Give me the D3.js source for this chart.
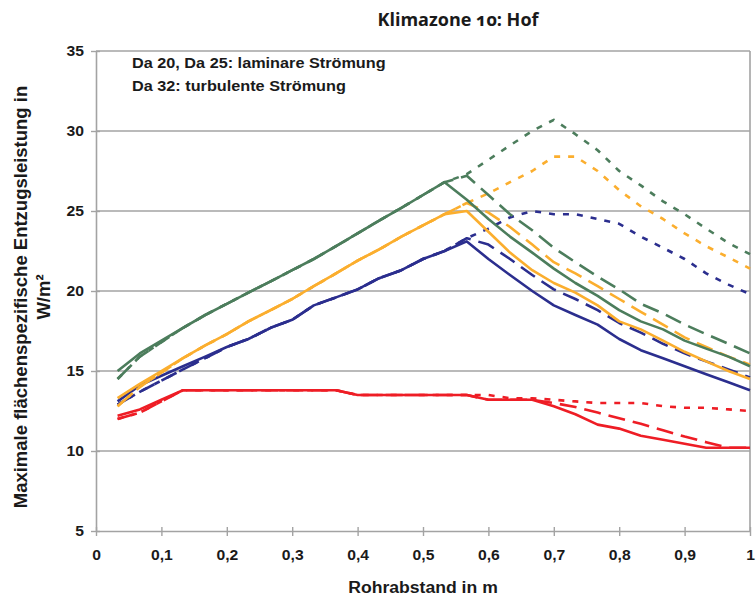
<!DOCTYPE html>
<html><head><meta charset="utf-8">
<script src="https://cdn.jsdelivr.net/npm/d3@7/dist/d3.min.js"></script>
<style>
body{margin:0;background:#fff;}
svg{display:block;font-family:"Liberation Sans",Arial,sans-serif;}
</style></head><body>
<svg id="chart" width="756" height="602"></svg>
<script>
// ---------- DATA ----------
const rohrabstand = [0.033,0.067,0.1,0.133,0.167,0.2,0.233,0.267,0.3,0.333,0.367,0.4,0.433,0.467,0.5,0.533,0.567,0.6,0.633,0.667,0.7,0.733,0.767,0.8,0.833,0.867,0.9,0.933,0.967,1.0];

const gruenDa20  = [15.0,16.1,16.9,17.7,18.5,19.2,19.9,20.6,21.3,22.0,22.8,23.6,24.4,25.2,26.0,26.8,25.7,24.5,23.4,22.4,21.4,20.5,19.7,18.8,18.1,17.6,16.9,16.4,15.9,15.3];
const gruenDa25  = [14.5,15.9,16.8,17.7,18.5,19.2,19.9,20.6,21.3,22.0,22.8,23.6,24.4,25.2,26.0,26.8,27.2,26.0,24.8,23.8,22.7,21.8,20.9,20.1,19.2,18.6,17.9,17.3,16.7,16.1];
const gruenDa32  = [14.5,15.9,16.8,17.7,18.5,19.2,19.9,20.6,21.3,22.0,22.8,23.6,24.4,25.2,26.0,26.8,27.3,28.2,29.1,30.0,30.7,29.8,28.8,27.5,26.6,25.6,24.8,23.9,23.0,22.3];

const orangeDa20 = [13.3,14.2,15.0,15.8,16.6,17.3,18.1,18.8,19.5,20.3,21.1,21.9,22.6,23.4,24.1,24.8,25.0,23.7,22.4,21.3,20.5,19.9,19.1,18.1,17.6,16.9,16.2,15.6,15.0,14.5];
const orangeDa25 = [12.8,14.0,14.9,15.8,16.6,17.3,18.1,18.8,19.5,20.3,21.1,21.9,22.6,23.4,24.1,24.8,25.5,24.9,24.0,22.9,21.8,21.1,20.3,19.5,18.7,17.9,17.1,16.5,15.9,15.4];
const orangeDa32 = [12.8,14.0,14.9,15.8,16.6,17.3,18.1,18.8,19.5,20.3,21.1,21.9,22.6,23.4,24.1,24.8,25.5,26.1,26.8,27.5,28.4,28.4,27.5,26.3,25.3,24.5,23.6,22.8,22.1,21.4];

const blauDa20   = [13.1,14.1,14.7,15.3,15.9,16.5,17.0,17.7,18.2,19.1,19.6,20.1,20.8,21.3,22.0,22.5,23.1,22.0,21.0,20.0,19.1,18.5,17.9,17.0,16.3,15.8,15.3,14.8,14.3,13.8];
const blauDa25   = [12.9,13.7,14.4,15.1,15.8,16.5,17.0,17.7,18.2,19.1,19.6,20.1,20.8,21.3,22.0,22.5,23.3,22.9,22.0,21.0,20.1,19.5,18.8,18.0,17.4,16.7,16.1,15.6,15.1,14.6];
const blauDa32   = [12.9,13.7,14.4,15.1,15.8,16.5,17.0,17.7,18.2,19.1,19.6,20.1,20.8,21.3,22.0,22.5,23.3,23.9,24.6,25.0,24.8,24.8,24.5,24.2,23.4,22.7,22.0,21.1,20.4,19.8];

const rotDa20    = [12.2,12.6,13.2,13.8,13.8,13.8,13.8,13.8,13.8,13.8,13.8,13.5,13.5,13.5,13.5,13.5,13.5,13.2,13.2,13.2,12.8,12.3,11.65,11.4,10.95,10.7,10.45,10.2,10.2,10.2];
const rotDa25    = [12.0,12.4,13.1,13.8,13.8,13.8,13.8,13.8,13.8,13.8,13.8,13.5,13.5,13.5,13.5,13.5,13.5,13.2,13.2,13.2,13.0,12.75,12.4,12.05,11.7,11.3,10.9,10.55,10.2,10.2];
const rotDa32    = [12.0,12.4,13.1,13.8,13.8,13.8,13.8,13.8,13.8,13.8,13.8,13.5,13.5,13.5,13.5,13.5,13.5,13.5,13.3,13.3,13.2,13.1,13.0,13.0,13.0,12.8,12.7,12.7,12.6,12.5];

const yTickValues = [5,10,15,20,25,30,35];
const xTickValues = [0,0.1,0.2,0.3,0.4,0.5,0.6,0.7,0.8,0.9,1];
const xTickLabels = ["0","0,1","0,2","0,3","0,4","0,5","0,6","0,7","0,8","0,9","1"];

const titleText = "Klimazone 10: Hof";
const noteLines = ["Da 20, Da 25: laminare Strömung","Da 32: turbulente Strömung"];
const yTitleLines = ["Maximale flächenspezifische Entzugsleistung in","W/m²"];
const xTitleText = "Rohrabstand in m";

// ---------- STYLE ----------
const C = {green:"#4C7D5C", orange:"#FBAE2E", blue:"#2B2E8E", red:"#EE1D25", grid:"#A3A3A3", text:"#1a1a1a"};
const DASH = {solid:null, lang:"17,8", kurz:"6,8"};

const series = [
  {v:rotDa32, c:C.red, d:DASH.kurz}, {v:rotDa25, c:C.red, d:DASH.lang}, {v:rotDa20, c:C.red, d:DASH.solid},
  {v:blauDa32, c:C.blue, d:DASH.kurz}, {v:blauDa25, c:C.blue, d:DASH.lang}, {v:blauDa20, c:C.blue, d:DASH.solid},
  {v:orangeDa32, c:C.orange, d:DASH.kurz}, {v:orangeDa25, c:C.orange, d:DASH.lang}, {v:orangeDa20, c:C.orange, d:DASH.solid},
  {v:gruenDa32, c:C.green, d:DASH.kurz}, {v:gruenDa25, c:C.green, d:DASH.lang}, {v:gruenDa20, c:C.green, d:DASH.solid}
];

const W = 756, H = 602;
const m = {left:96, right:6, top:51, bottom:71};
const svg = d3.select("#chart");
const x = d3.scaleLinear().domain([0,1]).range([m.left, W-m.right]);
const y = d3.scaleLinear().domain([5,35]).range([H-m.bottom, m.top]);

function hstretch(sel, k){
  sel.each(function(){
    const L = this.getComputedTextLength();
    this.setAttribute("textLength", L*k);
    this.setAttribute("lengthAdjust","spacingAndGlyphs");
  });
}

// gridlines
svg.append("g").selectAll("line").data(yTickValues.filter(v=>v>5)).join("line")
  .attr("x1", x(0)).attr("x2", x(1)).attr("y1", d=>y(d)).attr("y2", d=>y(d))
  .attr("stroke", C.grid).attr("stroke-width", 1.6);
// right border
svg.append("line").attr("x1", x(1)).attr("x2", x(1)).attr("y1", y(35)).attr("y2", y(5))
  .attr("stroke", C.grid).attr("stroke-width", 1.6);

// axes
const yAxis = d3.axisLeft(y).tickValues(yTickValues).tickSize(5).tickSizeOuter(0).tickFormat(d3.format("d"));
const gy = svg.append("g").attr("transform", `translate(${x(0)},0)`).call(yAxis);
const xAxis = d3.axisBottom(x).tickValues(xTickValues).tickSize(5).tickSizeOuter(0).tickFormat((d,i)=>xTickLabels[i]);
const gx = svg.append("g").attr("transform", `translate(0,${y(5)})`).call(xAxis);
[gx, gy].forEach(g=>{
  g.select(".domain").attr("stroke", C.grid).attr("stroke-width", 1.6);
  g.selectAll(".tick line").attr("stroke", C.grid).attr("stroke-width", 1.4);
  g.selectAll(".tick text").attr("fill", C.text).attr("font-size", 14).attr("font-weight", "bold")
    .attr("font-family", '"Liberation Sans",Arial,sans-serif');
});
gy.selectAll(".tick line").attr("x1", 4);
gy.selectAll(".tick text").attr("x", -12).attr("dy", "0.35em");
gx.selectAll(".tick line").attr("y1", -4);
gx.selectAll(".tick text").attr("y", 19).attr("dy", "0.71em");
hstretch(gx.selectAll(".tick text"), 1.12);
hstretch(gy.selectAll(".tick text"), 1.12);

// lines
const line = d3.line().x((d,i)=>x(rohrabstand[i])).y(d=>y(d));
svg.append("g").selectAll("path").data(series).join("path")
  .attr("d", d=>line(d.v)).attr("fill","none").attr("stroke", d=>d.c)
  .attr("stroke-width", 2.6).attr("stroke-dasharray", d=>d.d).attr("stroke-linejoin","round");

// title
svg.append("text").attr("x", 458).attr("y", 26).attr("text-anchor","middle")
  .attr("font-family",'"Open Sans","Noto Sans",sans-serif').attr("font-weight","bold").attr("font-size",18)
  .style("font-feature-settings",'"onum"').attr("fill", C.text).text(titleText);

// note
const note = svg.append("text").attr("font-weight","bold").attr("font-size",14).attr("fill",C.text);
noteLines.forEach((t,i)=>{
  note.append("tspan").attr("x", 132).attr("y", 68 + i*23).text(t);
});
note.selectAll("tspan").each(function(){ hstretch(d3.select(this), 1.16); });

// y title
const yt = svg.append("text").attr("transform","translate(0,297) rotate(-90)")
  .attr("text-anchor","middle").attr("font-weight","bold").attr("font-size",18.5).attr("fill",C.text);
yt.append("tspan").attr("x",0).attr("y",27).text(yTitleLines[0]);
yt.append("tspan").attr("x",0).attr("y",50).text(yTitleLines[1]);

// x title
const xt = svg.append("text").attr("x", (x(0)+x(1))/2).attr("y", 593).attr("text-anchor","middle")
  .attr("font-weight","bold").attr("font-size",16).attr("fill",C.text).text(xTitleText);
hstretch(xt, 1.1);
</script>
</body></html>
